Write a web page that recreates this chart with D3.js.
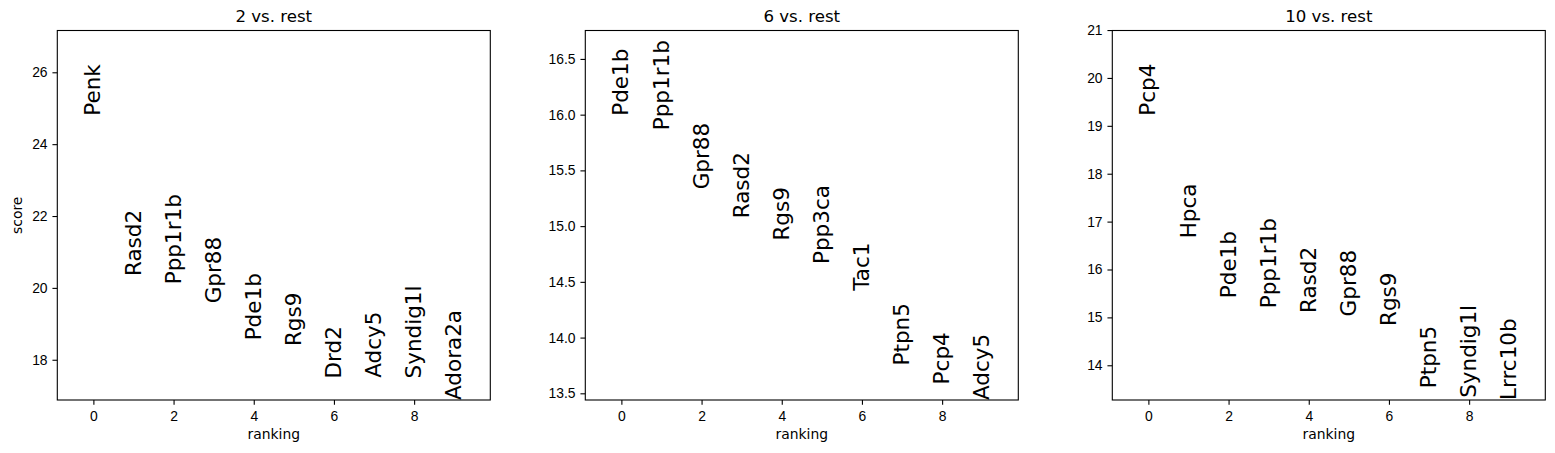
<!DOCTYPE html>
<html>
<head>
<meta charset="utf-8">
<script src="https://cdn.jsdelivr.net/npm/d3@7"></script>
<style>
  body { margin: 0; background: #fff; }
  svg { display: block; font-family: "DejaVu Sans", sans-serif; }
</style>
</head>
<body>
<div id="chart"></div>
<script>
const width = 1555;
const height = 453;

// one entry per panel
const titles = ["2 vs. rest", "6 vs. rest", "10 vs. rest"];

const genes2 = ["Penk", "Rasd2", "Ppp1r1b", "Gpr88", "Pde1b", "Rgs9", "Drd2", "Adcy5", "Syndig1l", "Adora2a"];
const scores2 = [24.79, 20.33, 20.10, 19.57, 18.54, 18.38, 17.48, 17.50, 17.48, 16.88];

const genes6 = ["Pde1b", "Ppp1r1b", "Gpr88", "Rasd2", "Rgs9", "Ppp3ca", "Tac1", "Ptpn5", "Pcp4", "Adcy5"];
const scores6 = [15.99, 15.86, 15.33, 15.07, 14.87, 14.66, 14.42, 13.75, 13.58, 13.44];

const genes10 = ["Pcp4", "Hpca", "Pde1b", "Ppp1r1b", "Rasd2", "Gpr88", "Rgs9", "Ptpn5", "Syndig1l", "Lrrc10b"];
const scores10 = [19.21, 16.65, 15.40, 15.19, 15.09, 15.02, 14.82, 13.52, 13.32, 13.275];

const yTicks2 = [18, 20, 22, 24, 26];
const yTicks6 = [13.5, 14.0, 14.5, 15.0, 15.5, 16.0, 16.5];
const yTicks10 = [14, 15, 16, 17, 18, 19, 20, 21];
const xTicks = [0, 2, 4, 6, 8];

const panels = [
  { title: titles[0], genes: genes2, scores: scores2, yTicks: yTicks2, fmt: d3.format("d"), left: 57.3 },
  { title: titles[1], genes: genes6, scores: scores6, yTicks: yTicks6, fmt: d3.format(".1f"), left: 585.3 },
  { title: titles[2], genes: genes10, scores: scores10, yTicks: yTicks10, fmt: d3.format("d"), left: 1112.3 }
];

const axW = 433;
const axTop = 30.5;
const axBottom = 400;
const tickLen = 4.86;

const svg = d3.select("#chart").append("svg")
    .attr("width", width)
    .attr("height", height);

panels.forEach((p, k) => {
    const g = svg.append("g").attr("transform", `translate(${p.left},0)`);

    const n = p.genes.length;
    const x = d3.scaleLinear().domain([-0.9, n - 0.1]).range([0, axW]);

    // scanpy pads the top by 30% of the score range
    const ymin = d3.min(p.scores), ymax = d3.max(p.scores);
    const y = d3.scaleLinear().domain([ymin, ymax + 0.3 * (ymax - ymin)]).range([axBottom, axTop]);

    const yAxis = d3.axisLeft(y).tickValues(p.yTicks).tickFormat(p.fmt)
        .tickSize(tickLen).tickPadding(4.86).tickSizeOuter(0);
    const gy = g.append("g").call(yAxis);
    gy.select(".domain").remove();
    gy.selectAll("line").attr("stroke", "#000").attr("stroke-width", 1.1);
    gy.selectAll("text").attr("fill", "#000").style("font-size", "13.9px");

    const xAxis = d3.axisBottom(x).tickValues(xTicks)
        .tickSize(tickLen).tickPadding(4.86).tickSizeOuter(0);
    const gx = g.append("g").attr("transform", `translate(0,${axBottom})`).call(xAxis);
    gx.select(".domain").remove();
    gx.selectAll("line").attr("stroke", "#000").attr("stroke-width", 1.1);
    gx.selectAll("text").attr("fill", "#000").attr("dy", "0.82em").style("font-size", "13.9px");

    g.append("rect")
        .attr("x", 0).attr("y", axTop)
        .attr("width", axW).attr("height", axBottom - axTop)
        .attr("fill", "none")
        .attr("stroke", "#000")
        .attr("stroke-width", 1.1);

    // gene names, rotated, bottom of text sits at the score
    g.selectAll("text.gene")
        .data(p.genes.map((name, i) => ({ name, i, s: p.scores[i] })))
        .join("text")
        .attr("class", "gene")
        .attr("transform", d => `translate(${x(d.i)},${y(d.s)}) rotate(-90)`)
        .attr("dy", "0.33em")
        .attr("text-anchor", "start")
        .style("font-size", "21.5px")
        .attr("fill", "#000")
        .text(d => d.name);

    g.append("text")
        .attr("x", axW / 2).attr("y", 21.7)
        .attr("text-anchor", "middle")
        .style("font-size", "16.6px")
        .text(p.title);

    g.append("text")
        .attr("x", axW / 2).attr("y", 438.5)
        .attr("text-anchor", "middle")
        .style("font-size", "13.9px")
        .text("ranking");

    if (k === 0) {
        g.append("text")
            .attr("transform", `translate(${21.7 - p.left},${(axTop + axBottom) / 2}) rotate(-90)`)
            .attr("text-anchor", "middle")
            .style("font-size", "13.9px")
            .text("score");
    }
});
</script>
</body>
</html>
